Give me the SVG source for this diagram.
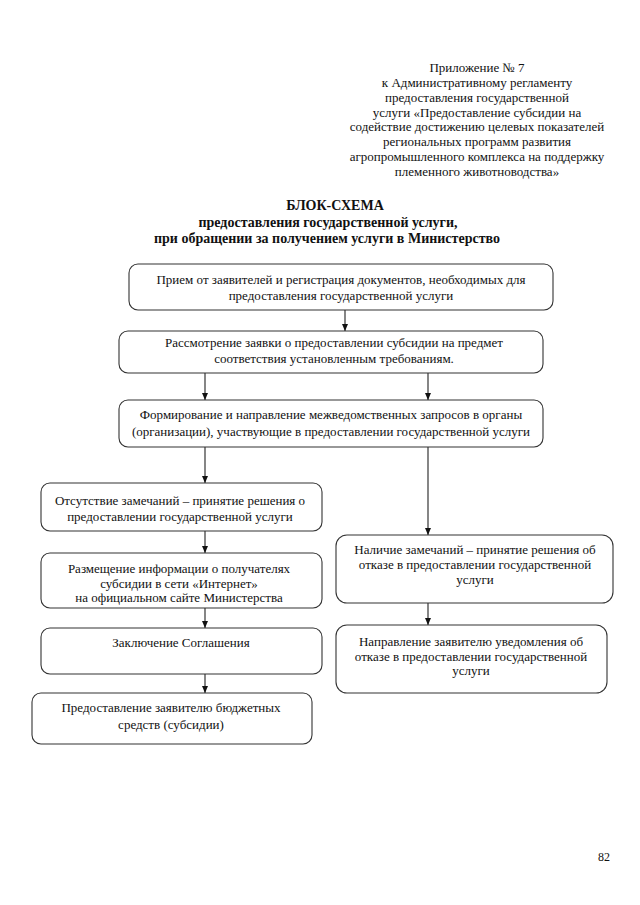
<svg xmlns="http://www.w3.org/2000/svg" width="640" height="905" viewBox="0 0 640 905">
<style>
text{font-family:"Liberation Serif","Times New Roman",serif;fill:#111;}
.h{font-size:13px;text-anchor:middle;}
.t{font-size:14px;font-weight:bold;text-anchor:middle;}
.b{font-size:13px;text-anchor:middle;}
.box{fill:#fff;stroke:#333;stroke-width:1.1;}
.con line{stroke:#222;stroke-width:1.1;}
</style>
<defs>
<marker id="ah" markerWidth="8" markerHeight="8" refX="7" refY="3" orient="auto" markerUnits="userSpaceOnUse">
<path d="M0,0 L7,3 L0,6 z" fill="#111"/>
</marker>
</defs>
<rect width="640" height="905" fill="#fff"/>
<g id="header">
<text class="h" x="477" y="72">Приложение № 7</text>
<text class="h" x="477" y="87">к Административному регламенту</text>
<text class="h" x="477" y="102">предоставления государственной</text>
<text class="h" x="477" y="117">услуги «Предоставление субсидии на</text>
<text class="h" x="477" y="131">содействие достижению целевых показателей</text>
<text class="h" x="477" y="146">региональных программ развития</text>
<text class="h" x="477" y="161">агропромышленного комплекса на поддержку</text>
<text class="h" x="477" y="176">племенного животноводства»</text>
</g>
<g id="title">
<text class="t" x="335" y="210">БЛОК-СХЕМА</text>
<text class="t" x="328" y="227">предоставления государственной услуги,</text>
<text class="t" x="327" y="243">при обращении за получением услуги в Министерство</text>
</g>
<g class="con" id="connectors">
<line x1="345" y1="310" x2="345" y2="331" marker-end="url(#ah)"/>
<line x1="205" y1="373" x2="205" y2="400" marker-end="url(#ah)"/>
<line x1="428" y1="373" x2="428" y2="400" marker-end="url(#ah)"/>
<line x1="205" y1="447" x2="205" y2="483" marker-end="url(#ah)"/>
<line x1="428" y1="447" x2="428" y2="535" marker-end="url(#ah)"/>
<line x1="205" y1="531" x2="205" y2="553" marker-end="url(#ah)"/>
<line x1="205" y1="608" x2="205" y2="628" marker-end="url(#ah)"/>
<line x1="205" y1="674" x2="205" y2="693" marker-end="url(#ah)"/>
<line x1="428" y1="603" x2="428" y2="625" marker-end="url(#ah)"/>
</g>
<g id="n1">
<rect class="box" x="129" y="264" width="424" height="46" rx="9"/>
<text class="b" x="341" y="284">Прием от заявителей и регистрация документов, необходимых для</text>
<text class="b" x="341" y="300">предоставления государственной услуги</text>
</g>
<g id="n2">
<rect class="box" x="119" y="331" width="424" height="42" rx="9"/>
<text class="b" x="334" y="347">Рассмотрение заявки о предоставлении субсидии на предмет</text>
<text class="b" x="334" y="363">соответствия установленным требованиям.</text>
</g>
<g id="n3">
<rect class="box" x="119" y="400" width="424" height="47" rx="9"/>
<text class="b" x="331" y="419">Формирование и направление межведомственных запросов в органы</text>
<text class="b" x="331" y="436">(организации), участвующие в предоставлении государственной услуги</text>
</g>
<g id="n4">
<rect class="box" x="41" y="483" width="281" height="48" rx="9"/>
<text class="b" x="180" y="505">Отсутствие замечаний – принятие решения о</text>
<text class="b" x="180" y="521">предоставлении государственной услуги</text>
</g>
<g id="n5">
<rect class="box" x="41" y="553" width="281" height="55" rx="9"/>
<text class="b" x="179" y="573">Размещение информации о получателях</text>
<text class="b" x="179" y="588">субсидии в сети «Интернет»</text>
<text class="b" x="179" y="602">на официальном сайте Министерства</text>
</g>
<g id="n6">
<rect class="box" x="41" y="628" width="281" height="46" rx="9"/>
<text class="b" x="181" y="647">Заключение Соглашения</text>
</g>
<g id="n7">
<rect class="box" x="32" y="693" width="280" height="51" rx="9"/>
<text class="b" x="171" y="712">Предоставление заявителю бюджетных</text>
<text class="b" x="171" y="729">средств (субсидии)</text>
</g>
<g id="n8">
<rect class="box" x="336" y="535" width="277" height="68" rx="11"/>
<text class="b" x="475" y="554">Наличие замечаний – принятие решения об</text>
<text class="b" x="475" y="569">отказе в предоставлении государственной</text>
<text class="b" x="475" y="584">услуги</text>
</g>
<g id="n9">
<rect class="box" x="336" y="625" width="271" height="68" rx="11"/>
<text class="b" x="471" y="646">Направление заявителю уведомления об</text>
<text class="b" x="471" y="661">отказе в предоставлении государственной</text>
<text class="b" x="471" y="675">услуги</text>
</g>
<g id="page">
<text x="604" y="861" style="font-size:12px;text-anchor:middle;">82</text>
</g>
</svg>
